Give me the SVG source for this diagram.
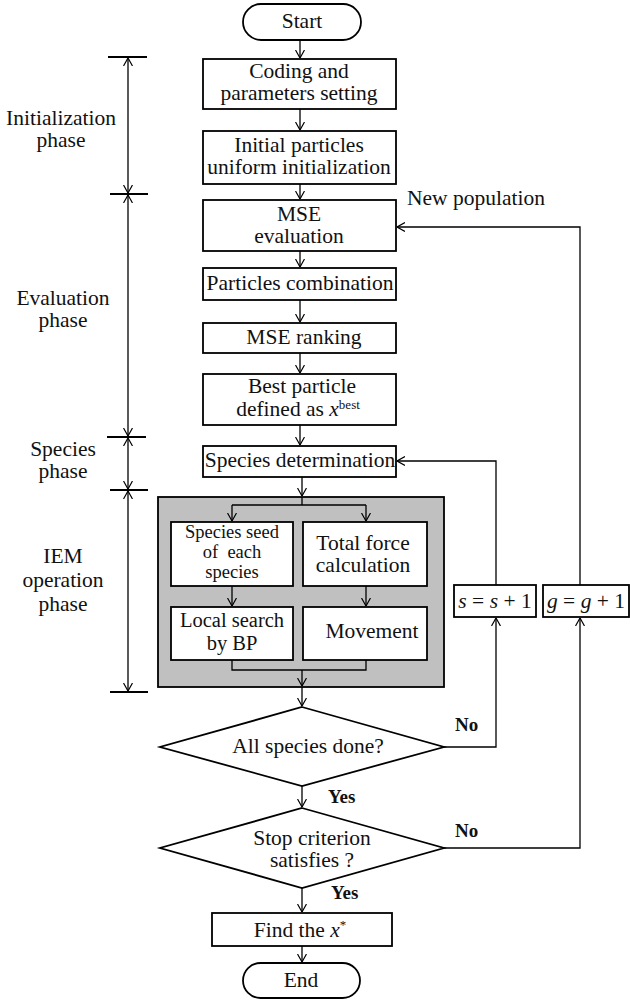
<svg xmlns="http://www.w3.org/2000/svg" width="630" height="1002" viewBox="0 0 630 1002">
<defs>
<marker id="ah" viewBox="0 0 8 10" refX="8" refY="5" markerWidth="8" markerHeight="10" markerUnits="userSpaceOnUse" orient="auto-start-reverse"><path d="M0,0.5 L8,5 L0,9.5" fill="none" stroke="#000" stroke-width="1.2"/></marker>
</defs>
<style>
.box{fill:#fff;stroke:#000;stroke-width:1.8}
.gray{fill:#c0c0c0;stroke:#000;stroke-width:1.8}
text{font-family:'Liberation Serif','DejaVu Serif',serif}
.t{font-size:21.5px;fill:#111;text-anchor:middle}
.s{font-size:18.5px}
.m{font-size:20.5px}
.lb{font-size:19px;font-weight:bold;fill:#111}
.c{fill:none;stroke:#000;stroke-width:1.3}
.a{fill:none;stroke:#000;stroke-width:1.3;marker-end:url(#ah)}
.aa{fill:none;stroke:#000;stroke-width:1.3;marker-start:url(#ah);marker-end:url(#ah)}
.tick{stroke:#000;stroke-width:2}
.i{font-style:italic}
</style>

<g id="phases">
<line class="tick" x1="108" y1="57" x2="147" y2="57"/>
<line class="tick" x1="110" y1="194" x2="148" y2="194"/>
<line class="tick" x1="107" y1="437" x2="146" y2="437"/>
<line class="tick" x1="110" y1="490" x2="148" y2="490"/>
<line class="tick" x1="110" y1="692" x2="148" y2="692"/>
<path class="aa" d="M128,58 V193"/>
<path class="aa" d="M128,195 V436"/>
<path class="aa" d="M128,438 V489"/>
<path class="aa" d="M128,491 V691"/>
<text class="t" x="61" y="125" font-family="Liberation Serif, serif">Initialization</text>
<text class="t" x="61" y="147" font-family="Liberation Serif, serif">phase</text>
<text class="t" x="63" y="305" font-family="Liberation Serif, serif">Evaluation</text>
<text class="t" x="63" y="327" font-family="Liberation Serif, serif">phase</text>
<text class="t" x="63" y="456" font-family="Liberation Serif, serif">Species</text>
<text class="t" x="63" y="478" font-family="Liberation Serif, serif">phase</text>
<text class="t" x="63" y="563" font-family="Liberation Serif, serif">IEM</text>
<text class="t" x="63" y="587" font-family="Liberation Serif, serif">operation</text>
<text class="t" x="63" y="611" font-family="Liberation Serif, serif">phase</text>
</g>

<g id="start"><rect class="box" x="243" y="4" width="118" height="36" rx="18"/><text class="t" x="302" y="28" font-family="Liberation Serif, serif">Start</text></g>
<g id="coding"><rect class="box" x="203" y="59" width="193" height="50"/><text class="t" x="299" y="78" font-family="Liberation Serif, serif">Coding and</text><text class="t" x="299" y="100" font-family="Liberation Serif, serif">parameters setting</text></g>
<g id="init"><rect class="box" x="203" y="131" width="193" height="53"/><text class="t" x="299" y="152" font-family="Liberation Serif, serif">Initial particles</text><text class="t" x="299" y="174" font-family="Liberation Serif, serif">uniform initialization</text></g>
<g id="mse-eval"><rect class="box" x="203" y="200" width="193" height="51"/><text class="t" x="299" y="221" font-family="Liberation Serif, serif">MSE</text><text class="t" x="299" y="243" font-family="Liberation Serif, serif">evaluation</text></g>
<g id="combination"><rect class="box" x="203" y="268" width="193" height="32"/><text class="t" x="300" y="290" font-family="Liberation Serif, serif">Particles combination</text></g>
<g id="ranking"><rect class="box" x="203" y="323" width="193" height="30"/><text class="t" x="304" y="344" font-family="Liberation Serif, serif">MSE ranking</text></g>
<g id="best"><rect class="box" x="203" y="374" width="193" height="51"/><text class="t" x="302" y="393" font-family="Liberation Serif, serif">Best particle</text><text class="t" x="298" y="416" font-family="Liberation Serif, serif">defined as <tspan class="i">x</tspan><tspan font-size="13" dy="-7">best</tspan></text></g>
<g id="species-det"><rect class="box" x="203" y="446" width="193" height="31"/><text class="t" x="300" y="467" font-family="Liberation Serif, serif">Species determination</text></g>

<g id="iem"><rect class="gray" x="158" y="497" width="286" height="190"/></g>
<g id="seed"><rect class="box" x="171" y="522" width="122" height="64"/><text class="t s" x="232" y="538" font-family="Liberation Serif, serif">Species seed</text><text class="t s" x="232" y="558" xml:space="preserve" font-family="Liberation Serif, serif">of  each</text><text class="t s" x="232" y="578" font-family="Liberation Serif, serif">species</text></g>
<g id="force"><rect class="box" x="303" y="522" width="124" height="64"/><text class="t" x="363" y="550" font-family="Liberation Serif, serif">Total force</text><text class="t" x="363" y="572" font-family="Liberation Serif, serif">calculation</text></g>
<g id="local"><rect class="box" x="171" y="607" width="122" height="53"/><text class="t m" x="232" y="627" font-family="Liberation Serif, serif">Local search</text><text class="t m" x="232" y="650" font-family="Liberation Serif, serif">by BP</text></g>
<g id="movement"><rect class="box" x="303" y="607" width="124" height="53"/><text class="t" x="372" y="638" font-family="Liberation Serif, serif">Movement</text></g>

<g id="all-done"><polygon class="box" points="302,707 444,747 302,786 160,747"/><text class="t" x="308" y="753" font-family="Liberation Serif, serif">All species done?</text></g>
<g id="stop"><polygon class="box" points="302,808 444,848 302,888 160,848"/><text class="t" x="312" y="845" font-family="Liberation Serif, serif">Stop criterion</text><text class="t" x="312" y="867" font-family="Liberation Serif, serif">satisfies ?</text></g>
<g id="find"><rect class="box" x="212" y="913" width="180" height="33"/><text class="t" x="300" y="937" font-family="Liberation Serif, serif">Find the <tspan class="i">x</tspan><tspan font-size="13" dy="-8">*</tspan></text></g>
<g id="end"><rect class="box" x="243" y="963" width="117" height="35" rx="17.5"/><text class="t" x="301" y="987" font-family="Liberation Serif, serif">End</text></g>

<g id="s-inc"><rect class="box" x="454" y="585" width="82" height="32"/><text class="t" x="495" y="608" font-family="Liberation Serif, serif"><tspan class="i">s</tspan> = <tspan class="i">s</tspan> + 1</text></g>
<g id="g-inc"><rect class="box" x="543" y="585" width="86" height="32"/><text class="t" x="586" y="608" font-family="Liberation Serif, serif"><tspan class="i">g</tspan> = <tspan class="i">g</tspan> + 1</text></g>

<g id="connectors">
<path class="a" d="M300,40 V58"/>
<path class="a" d="M300,109 V130"/>
<path class="a" d="M300,184 V199"/>
<path class="a" d="M300,251 V267"/>
<path class="a" d="M300,300 V322"/>
<path class="a" d="M300,353 V373"/>
<path class="a" d="M300,425 V445"/>
<path class="a" d="M302,477 V496"/>
<path class="c" d="M302,497 V505 M232,505 H366"/>
<path class="a" d="M232,505 V521"/>
<path class="a" d="M366,505 V521"/>
<path class="a" d="M232,586 V606"/>
<path class="a" d="M366,586 V606"/>
<path class="c" d="M232,660 V670 H366 V660"/>
<path class="a" d="M302,670 V686"/>
<path class="a" d="M302,687 V706"/>
<path class="a" d="M302,786 V807"/>
<path class="a" d="M302,888 V912"/>
<path class="a" d="M302,946 V962"/>
<path class="a" d="M444,747 H496 V618"/>
<path class="a" d="M496,585 V461 H397"/>
<path class="a" d="M444,848 H580 V618"/>
<path class="a" d="M580,585 V227 H397"/>
<text class="lb" x="455" y="731" font-family="Liberation Serif, serif">No</text>
<text class="lb" x="455" y="837" font-family="Liberation Serif, serif">No</text>
<text class="lb" x="328" y="803" font-family="Liberation Serif, serif">Yes</text>
<text class="lb" x="331" y="899" font-family="Liberation Serif, serif">Yes</text>
<text class="t" x="407" y="205" style="text-anchor:start" font-family="Liberation Serif, serif">New population</text>
</g>
</svg>
